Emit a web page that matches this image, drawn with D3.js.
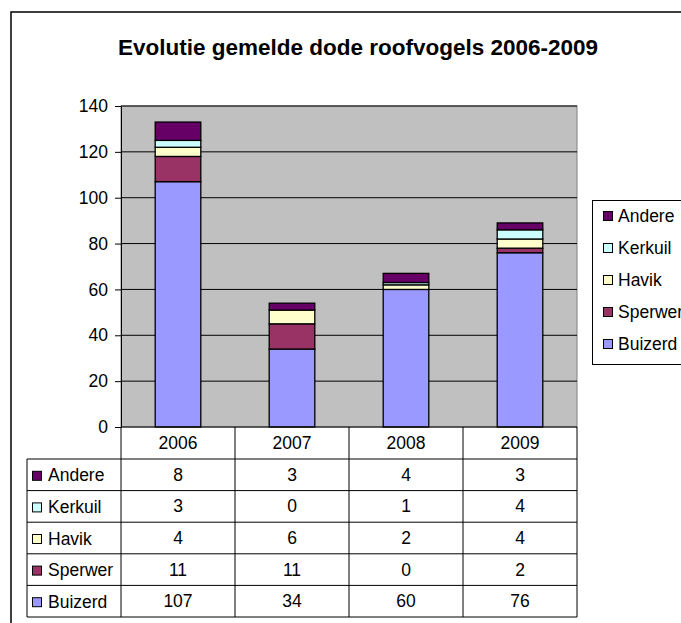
<!DOCTYPE html>
<html>
<head>
<meta charset="utf-8">
<script src="https://cdn.jsdelivr.net/npm/d3@7"></script>
<style>
	body { margin: 0; background: #fff; }
	svg { display: block; font-family: "Liberation Sans", Arial, sans-serif; }
</style>
</head>
<body>
<svg id="chart"></svg>
<script>

// data
var years = ["2006", "2007", "2008", "2009"];
var species = ["Buizerd", "Sperwer", "Havik", "Kerkuil", "Andere"];
var buizerd = [107, 34, 60, 76];
var sperwer = [11, 11, 0, 2];
var havik = [4, 6, 2, 4];
var kerkuil = [3, 0, 1, 4];
var andere = [8, 3, 4, 3];
var yTicks = [0, 20, 40, 60, 80, 100, 120, 140];
var colors = ["#9999FF", "#993366", "#FFFFCC", "#CCFFFF", "#660066"];

var series = [buizerd, sperwer, havik, kerkuil, andere];

var width = 681,
	height = 623,
	fs = 17.5;

var svg = d3.select("#chart")
	.attr("width", width)
	.attr("height", height);

// outer frame (runs past the window on right and bottom)
svg.append("rect")
	.attr("x", 11).attr("y", 12)
	.attr("width", 720).attr("height", 700)
	.attr("fill", "#fff")
	.attr("stroke", "#000")
	.attr("stroke-width", 1.5);

svg.append("text")
	.attr("x", 358).attr("y", 55)
	.attr("text-anchor", "middle")
	.attr("font-size", 22.5)
	.attr("font-weight", "bold")
	.text("Evolutie gemelde dode roofvogels 2006-2009");

var plotLeft = 121, plotRight = 577, plotTop = 106, plotBottom = 427;

var x = d3.scaleBand()
	.domain(years)
	.range([plotLeft, plotRight])
	.paddingInner(0.6)
	.paddingOuter(0.3);

var xCell = d3.scaleBand()
	.domain(years)
	.range([plotLeft, plotRight]);

var y = d3.scaleLinear()
	.domain([0, 140])
	.range([plotBottom, plotTop]);

var color = d3.scaleOrdinal().domain(species).range(colors);

// plot area
svg.append("rect")
	.attr("x", plotLeft).attr("y", plotTop)
	.attr("width", plotRight - plotLeft).attr("height", plotBottom - plotTop)
	.attr("fill", "#C0C0C0")
	.attr("stroke", "#808080");

svg.append("g")
	.selectAll("line")
	.data(yTicks.filter(d => d > 0))
	.join("line")
	.attr("x1", plotLeft).attr("x2", plotRight)
	.attr("y1", d => y(d)).attr("y2", d => y(d))
	.attr("stroke", "#000")
	.attr("stroke-width", 1);

// y axis
var yAxis = svg.append("g")
	.attr("transform", `translate(${plotLeft},0)`)
	.call(d3.axisLeft(y).tickValues(yTicks).tickSize(6).tickPadding(7).tickSizeOuter(0));
yAxis.select(".domain").attr("stroke", "#000");
yAxis.selectAll("text").attr("font-size", fs).attr("font-family", "Liberation Sans, Arial, sans-serif").attr("fill", "#000");

// stacked bars
var table = years.map((yr, i) => {
	var row = { year: yr };
	species.forEach((s, j) => row[s] = series[j][i]);
	return row;
});

var stacked = d3.stack().keys(species)(table);

svg.append("g")
	.selectAll("g")
	.data(stacked)
	.join("g")
	.attr("fill", d => color(d.key))
	.selectAll("rect")
	.data(d => d)
	.join("rect")
	.attr("x", d => x(d.data.year))
	.attr("width", x.bandwidth())
	.attr("y", d => y(d[1]))
	.attr("height", d => y(d[0]) - y(d[1]))
	.attr("stroke", "#000")
	.attr("stroke-width", 1.3);

// x axis line
svg.append("line")
	.attr("x1", plotLeft).attr("x2", plotRight)
	.attr("y1", plotBottom).attr("y2", plotBottom)
	.attr("stroke", "#000");

// data table
var tableLeft = 27, headerBottom = 459, rowH = 31.6;
var order = species.slice().reverse();
var tableBottom = headerBottom + rowH * order.length;

var rowY = d3.scaleBand()
	.domain(order)
	.range([headerBottom, tableBottom]);

var tg = svg.append("g").attr("stroke", "#000").attr("stroke-width", 1);

// vertical lines
tg.selectAll("line.v")
	.data(years.concat(["end"]))
	.join("line")
	.attr("class", "v")
	.attr("x1", d => d === "end" ? plotRight : xCell(d))
	.attr("x2", d => d === "end" ? plotRight : xCell(d))
	.attr("y1", plotBottom).attr("y2", tableBottom);

tg.append("line")
	.attr("x1", tableLeft).attr("x2", tableLeft)
	.attr("y1", headerBottom).attr("y2", tableBottom);

// horizontal lines
tg.selectAll("line.h")
	.data(order.concat(["end"]))
	.join("line")
	.attr("class", "h")
	.attr("x1", tableLeft).attr("x2", plotRight)
	.attr("y1", d => d === "end" ? tableBottom : rowY(d))
	.attr("y2", d => d === "end" ? tableBottom : rowY(d));

// year headers
svg.append("g")
	.selectAll("text")
	.data(years)
	.join("text")
	.attr("x", d => xCell(d) + xCell.bandwidth() / 2)
	.attr("y", (plotBottom + headerBottom) / 2 + 6)
	.attr("text-anchor", "middle")
	.attr("font-size", fs)
	.text(d => d);

// row labels with swatches
var rows = svg.append("g")
	.selectAll("g")
	.data(order)
	.join("g")
	.attr("transform", d => `translate(0,${rowY(d) + rowY.bandwidth() / 2})`);

rows.append("rect")
	.attr("x", 32.5).attr("y", -3.5)
	.attr("width", 9).attr("height", 9)
	.attr("fill", d => color(d))
	.attr("stroke", "#000");

rows.append("text")
	.attr("x", 48).attr("y", 6.5)
	.attr("font-size", fs)
	.text(d => d);

rows.selectAll("text.val")
	.data(d => years.map((yr, i) => ({ yr: yr, v: series[species.indexOf(d)][i] })))
	.join("text")
	.attr("class", "val")
	.attr("x", d => xCell(d.yr) + xCell.bandwidth() / 2)
	.attr("y", 6)
	.attr("text-anchor", "middle")
	.attr("font-size", fs)
	.text(d => d.v);

// legend
var legend = svg.append("g");
legend.append("rect")
	.attr("x", 592.5).attr("y", 200.5)
	.attr("width", 120).attr("height", 164)
	.attr("fill", "#fff")
	.attr("stroke", "#000");

var legendY = d3.scalePoint()
	.domain(order)
	.range([215, 343]);

var li = legend.selectAll("g")
	.data(order)
	.join("g")
	.attr("transform", d => `translate(0,${legendY(d)})`);

li.append("rect")
	.attr("x", 603.5).attr("y", -3.5)
	.attr("width", 9).attr("height", 9)
	.attr("fill", d => color(d))
	.attr("stroke", "#000");

li.append("text")
	.attr("x", 618).attr("y", 6.5)
	.attr("font-size", fs)
	.text(d => d);

</script>
</body>
</html>
